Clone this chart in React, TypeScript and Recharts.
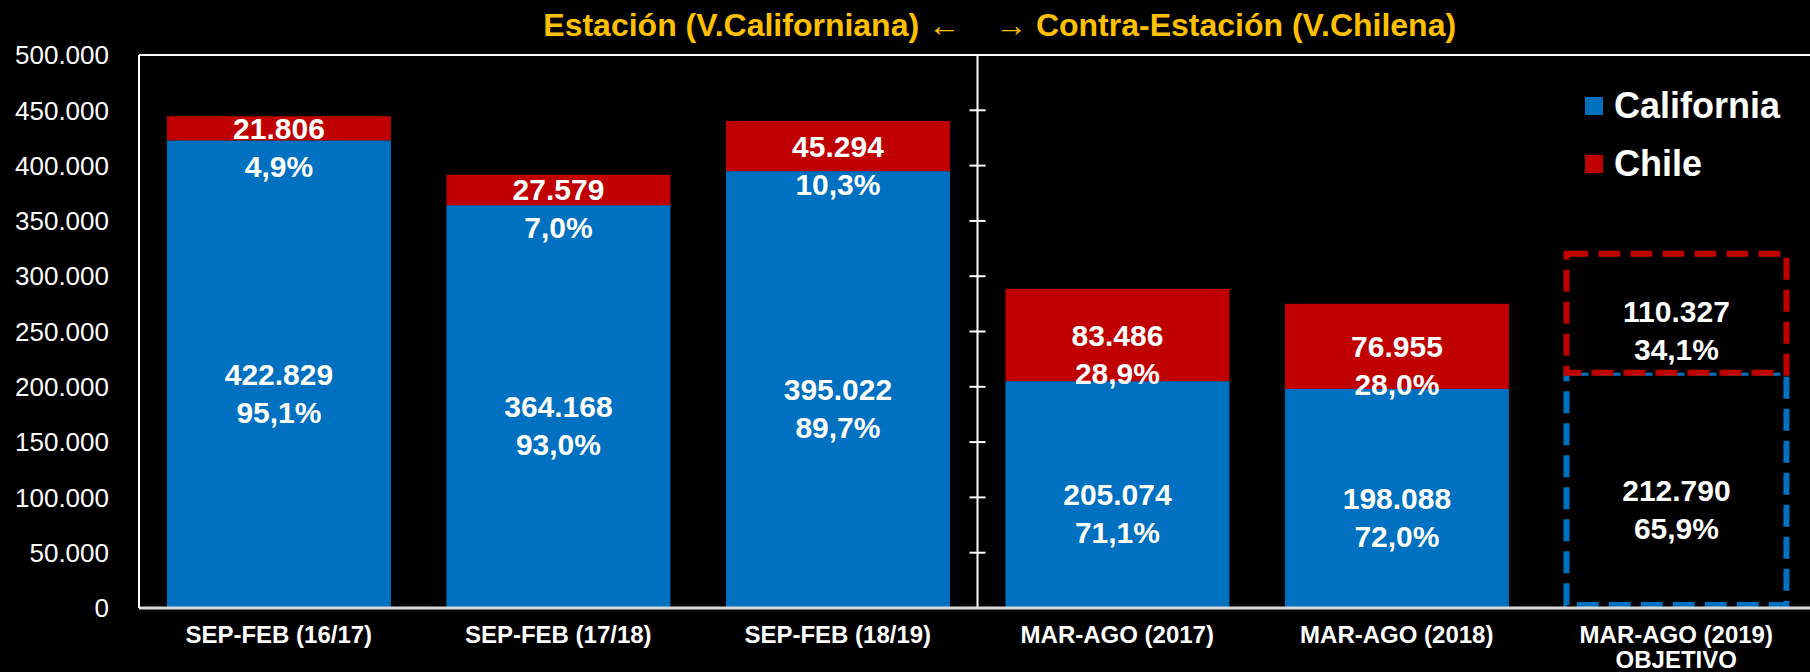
import React from 'react';
import { BarChart, Bar, XAxis, YAxis, Legend, ReferenceLine, LabelList } from 'recharts';

const FONT = '"Liberation Sans", Arial, sans-serif';
const BLUE = '#0070C0';
const RED = '#C00000';

// chart data
const categories = [
  'SEP-FEB (16/17)',
  'SEP-FEB (17/18)',
  'SEP-FEB (18/19)',
  'MAR-AGO (2017)',
  'MAR-AGO (2018)',
  'MAR-AGO (2019)\nOBJETIVO',
];
const california = [422829, 364168, 395022, 205074, 198088, 212790];
const chile = [21806, 27579, 45294, 83486, 76955, 110327];
const californiaPct = [95.1, 93.0, 89.7, 71.1, 72.0, 65.9];
const chilePct = [4.9, 7.0, 10.3, 28.9, 28.0, 34.1];
const yTicks = [0, 50000, 100000, 150000, 200000, 250000, 300000, 350000, 400000, 450000, 500000];
const yMax = 500000;
const targetCategory = categories[5];
const firstContraSeason = categories[3]; // divider sits at the start of this band

const data = categories.map((cat, i) => ({
  cat,
  California: california[i],
  Chile: chile[i],
}));

const fmtNum = (v: number) => String(v).replace(/\B(?=(\d{3})+(?!\d))/g, '.');
const fmtPct = (v: number) => v.toFixed(1).replace('.', ',') + '%';

const makeShape = (color: string, top: boolean) => (props: any) => {
  const { x, y, width, height, payload } = props;
  if (payload && payload.cat === targetCategory) {
    const y0 = top ? y + 3 : y;
    const h = height - 3;
    return (
      <rect
        x={x + 2}
        y={y0}
        width={width - 4}
        height={h}
        fill="#000"
        stroke={color}
        strokeWidth={6}
        strokeDasharray="22 10"
      />
    );
  }
  return <rect x={x} y={y} width={width} height={height} fill={color} />;
};

const makeLabel = (pcts: number[]) => (props: any) => {
  const { x, y, width, height, value, index } = props;
  const cx = x + width / 2;
  const cy = y + height / 2;
  const style = { fill: '#fff', fontSize: 30, fontWeight: 'bold' as const, fontFamily: FONT };
  return (
    <g>
      <text x={cx} y={cy} textAnchor="middle" dominantBaseline="central" {...style}>
        {fmtNum(value)}
      </text>
      <text x={cx} y={cy + 38} textAnchor="middle" dominantBaseline="central" {...style}>
        {fmtPct(pcts[index])}
      </text>
    </g>
  );
};

// vertical divider with cross ticks at every y tick
const DividerShape = (props: any) => {
  const { x1, y1, y2 } = props;
  const top = Math.min(y1, y2);
  const bottom = Math.max(y1, y2);
  return (
    <g stroke="#fff" strokeWidth={2}>
      <line x1={x1} y1={top} x2={x1} y2={bottom} />
      {yTicks.map((v) => {
        const ty = bottom - ((bottom - top) * v) / yMax;
        return <line key={v} x1={x1 - 8} y1={ty} x2={x1 + 8} y2={ty} />;
      })}
    </g>
  );
};

const CategoryTick = ({ x, y, payload }: any) => {
  const lines = String(payload.value).split('\n');
  return (
    <text x={x} y={y} textAnchor="middle" fill="#fff" fontSize={24} fontWeight="bold" fontFamily={FONT}>
      {lines.map((l, i) => (
        <tspan key={i} x={x} dy={i === 0 ? 35 : 25}>
          {l}
        </tspan>
      ))}
    </text>
  );
};

const renderLegend = (props: any) => (
  <div>
    {(props.payload || []).map((e: any) => (
      <div key={e.value} style={{ display: 'flex', alignItems: 'center', height: 58 }}>
        <span style={{ width: 18, height: 18, background: e.color, marginRight: 11, flexShrink: 0 }} />
        <span style={{ color: '#fff', fontSize: 36, fontWeight: 'bold', fontFamily: FONT, lineHeight: 1 }}>
          {e.value}
        </span>
      </div>
    ))}
  </div>
);

const titleStyle: React.CSSProperties = {
  position: 'absolute',
  top: 9,
  color: '#FFC000',
  fontSize: 32,
  fontWeight: 'bold',
  fontFamily: FONT,
  lineHeight: 1,
  whiteSpace: 'nowrap',
};

export default function App() {
  return (
    <div
      style={{
        position: 'fixed',
        left: 0,
        top: 0,
        width: 1810,
        height: 672,
        overflow: 'hidden',
        background: '#000',
      }}
    >
      <BarChart
        width={1820}
        height={672}
        data={data}
        margin={{ top: 55, right: 4, bottom: 0, left: 0 }}
        barCategoryGap="10%"
      >
        <XAxis
          dataKey="cat"
          interval={0}
          height={64}
          tickLine={false}
          tickSize={0}
          tickMargin={0}
          axisLine={{ stroke: '#D9D9D9', strokeWidth: 3 }}
          tick={<CategoryTick />}
        />
        <YAxis
          width={139}
          domain={[0, yMax]}
          ticks={yTicks}
          interval={0}
          tickLine={false}
          tickSize={0}
          tickMargin={30}
          tickFormatter={fmtNum}
          axisLine={{ stroke: '#fff', strokeWidth: 2 }}
          tick={{ fill: '#fff', fontSize: 26, fontFamily: FONT }}
        />
        <ReferenceLine y={yMax} stroke="#fff" strokeWidth={2} />
        <Legend
          layout="vertical"
          align="center"
          verticalAlign="middle"
          wrapperStyle={{ top: 77, left: 1585, width: 230 }}
          content={renderLegend}
        />
        <Bar dataKey="California" stackId="a" fill={BLUE} shape={makeShape(BLUE, false)} isAnimationActive={false}>
          <LabelList dataKey="California" content={makeLabel(californiaPct)} />
        </Bar>
        <Bar dataKey="Chile" stackId="a" fill={RED} shape={makeShape(RED, true)} isAnimationActive={false}>
          <LabelList dataKey="Chile" content={makeLabel(chilePct)} />
        </Bar>
        <ReferenceLine x={firstContraSeason} position="start" stroke="#fff" shape={DividerShape} />
      </BarChart>
      <div style={{ ...titleStyle, right: 1810 - 960, textAlign: 'right' }}>Estación (V.Californiana) ←</div>
      <div style={{ ...titleStyle, left: 995 }}>→ Contra-Estación (V.Chilena)</div>
    </div>
  );
}
